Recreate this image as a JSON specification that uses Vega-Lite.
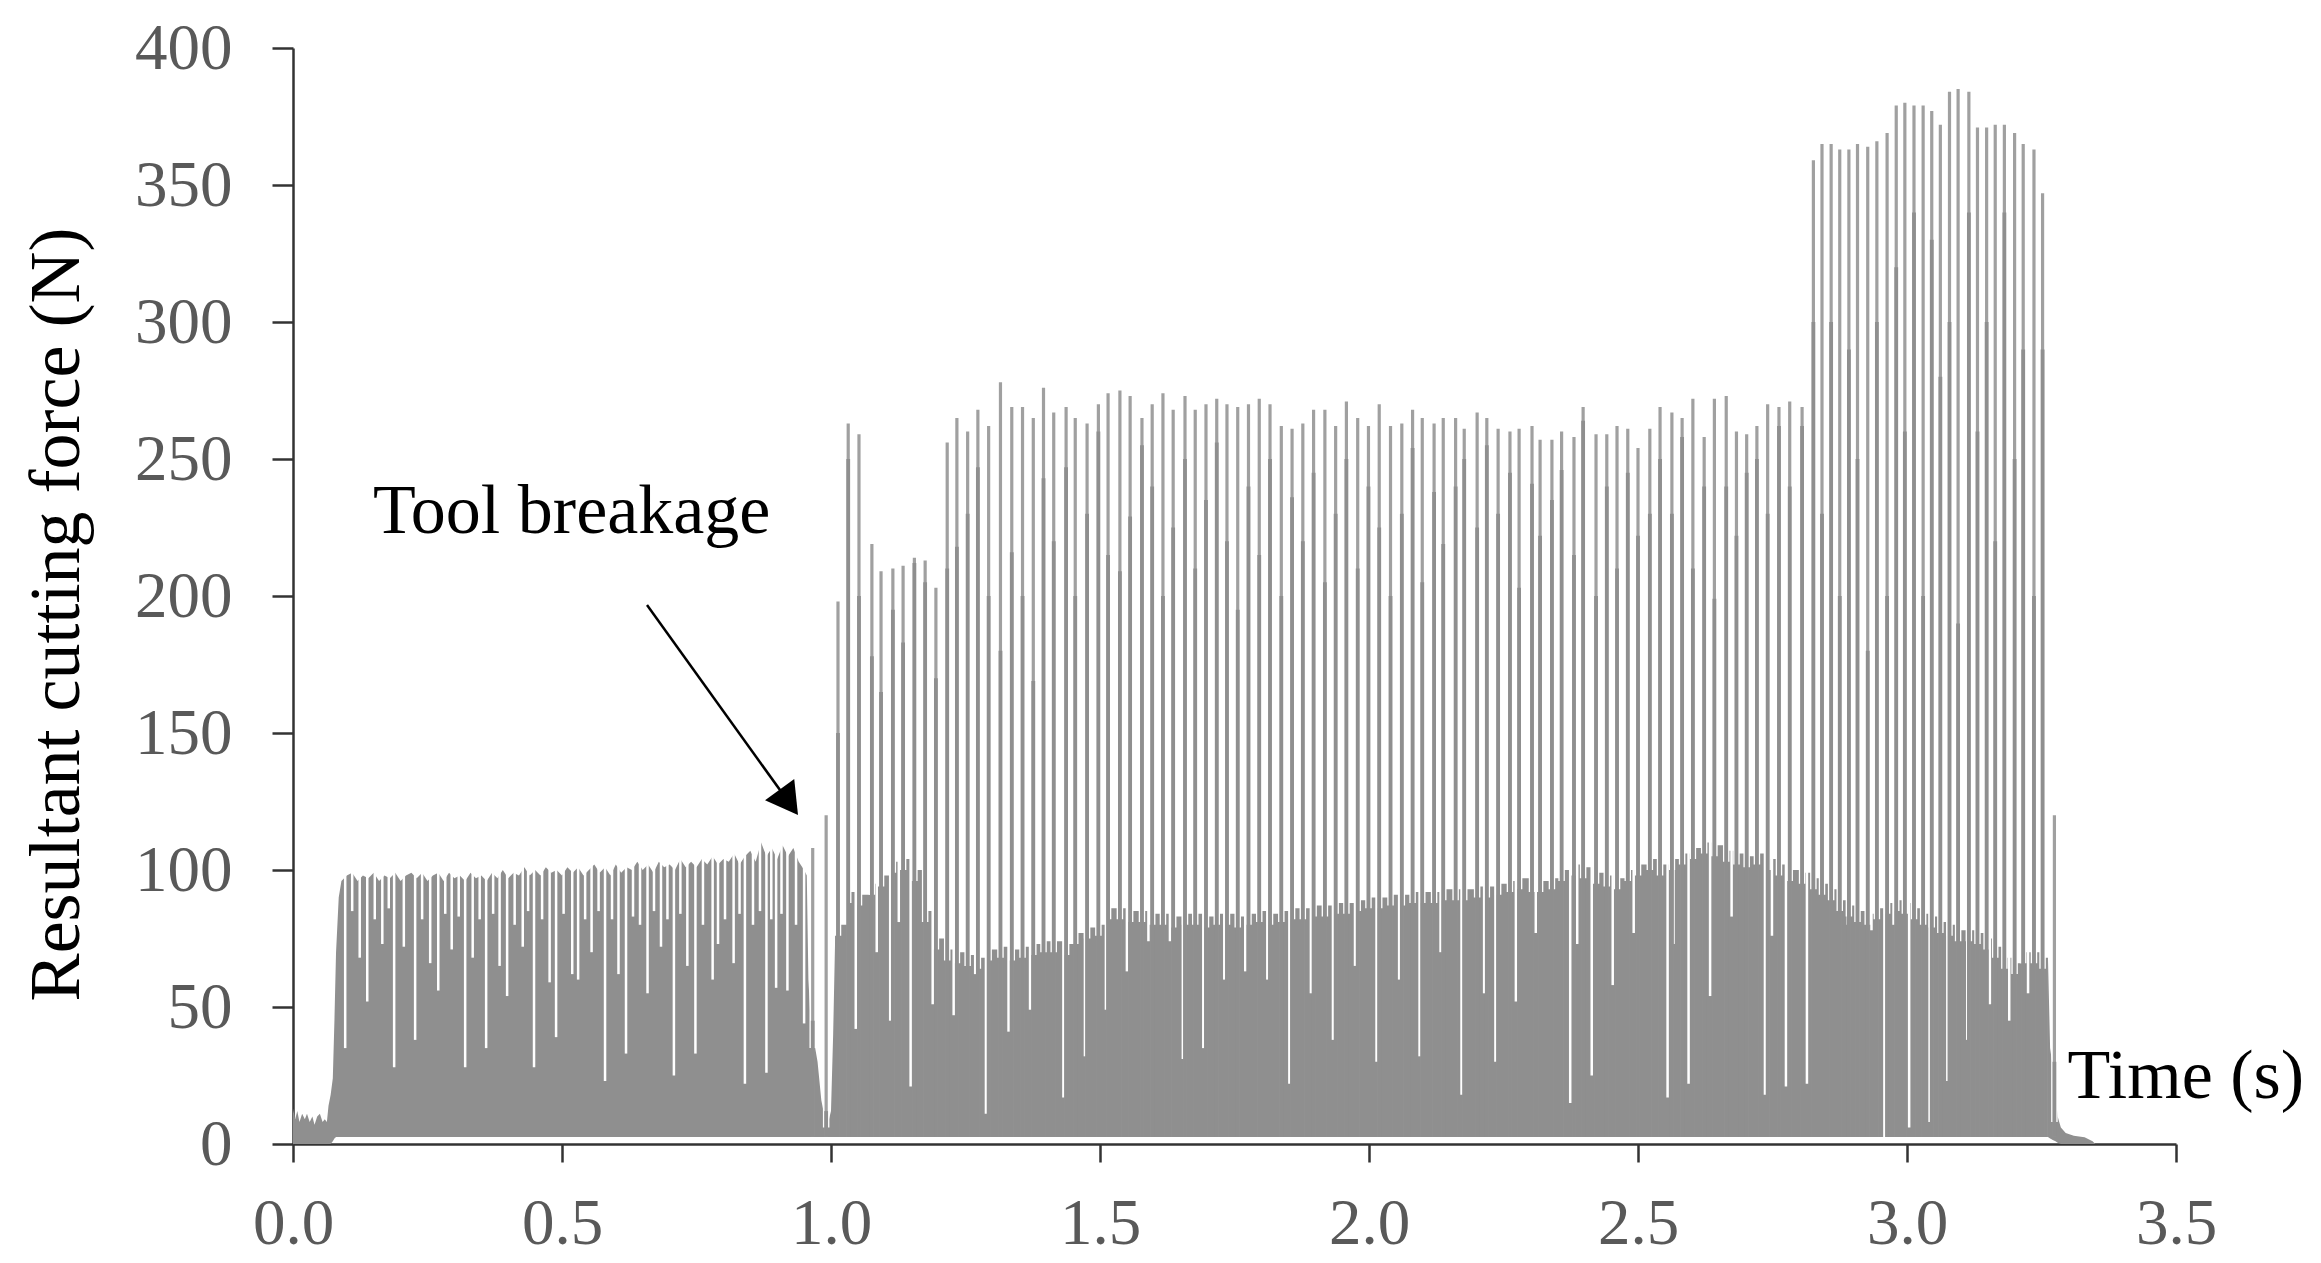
{
"$schema": "https://vega.github.io/schema/vega-lite/v6.json",
"width": 1883, "height": 1096,
"autosize": {"type": "none"},
"padding": {"left": 293, "top": 48, "right": 145, "bottom": 119},
"background": "white",
"config": {
 "view": {"stroke": null},
 "axis": {"grid": false, "labelFont": "Liberation Serif", "labelFontSize": 65, "labelColor": "#595959", "titleFont": "Liberation Serif", "titleFontWeight": "normal", "titleColor": "#000000", "tickColor": "#333333", "domainColor": "#333333", "tickWidth": 2.5, "domainWidth": 2.5, "labelFlush": false, "labelOverlap": false},
 "axisX": {"tickSize": 18, "labelPadding": 30, "titleFontSize": 70, "titleX": 1774, "titleY": -47, "titleAlign": "left", "titleBaseline": "alphabetic", "titleAngle": 0, "labelAngle": 0},
 "axisY": {"tickSize": 21, "labelPadding": 40, "titleFontSize": 72, "titleX": -215, "titleY": 566, "titleAlign": "center", "titleBaseline": "alphabetic", "titleAngle": 270}
},
"datasets": {
 "fill": [
  {"t":0,"top":13,"lo":0,"seg":1},{"t":0.004,"top":9,"lo":0,"seg":1},{"t":0.008,"top":12,"lo":0,"seg":1},{"t":0.012,"top":8,"lo":0,"seg":1},{"t":0.017,"top":11,"lo":0,"seg":1},{"t":0.022,"top":9,"lo":0,"seg":1},{"t":0.026,"top":11,"lo":0,"seg":1},{"t":0.031,"top":8,"lo":0,"seg":1},{"t":0.036,"top":10,"lo":0,"seg":1},{"t":0.040,"top":7,"lo":0,"seg":1},{"t":0.045,"top":10,"lo":0,"seg":1},{"t":0.050,"top":11,"lo":0,"seg":1},{"t":0.055,"top":8,"lo":0,"seg":1},{"t":0.059,"top":9,"lo":0,"seg":1},{"t":0.063,"top":8,"lo":0,"seg":1},{"t":0.066,"top":14,"lo":0,"seg":1},{"t":0.070,"top":18,"lo":0,"seg":1},{"t":0.074,"top":24,"lo":1,"seg":1},{"t":0.077,"top":45,"lo":2,"seg":1},{"t":0.080,"top":70,"lo":2.6,"seg":1},{"t":0.085,"top":90,"lo":2.6,"seg":1},
  {"t":0.09,"top":96,"lo":2.6,"seg":1},{"t":0.10,"top":98,"lo":2.6,"seg":1},{"t":0.11,"top":99,"lo":2.6,"seg":1},{"t":0.12,"top":96,"lo":2.6,"seg":1},{"t":0.13,"top":98,"lo":2.6,"seg":1},{"t":0.14,"top":97,"lo":2.6,"seg":1},{"t":0.15,"top":99,"lo":2.6,"seg":1},{"t":0.16,"top":96,"lo":2.6,"seg":1},{"t":0.17,"top":98,"lo":2.6,"seg":1},{"t":0.18,"top":97,"lo":2.6,"seg":1},{"t":0.19,"top":99,"lo":2.6,"seg":1},{"t":0.20,"top":96,"lo":2.6,"seg":1},{"t":0.21,"top":98,"lo":2.6,"seg":1},{"t":0.22,"top":99,"lo":2.6,"seg":1},{"t":0.23,"top":97,"lo":2.6,"seg":1},{"t":0.24,"top":99,"lo":2.6,"seg":1},{"t":0.25,"top":96,"lo":2.6,"seg":1},{"t":0.26,"top":98,"lo":2.6,"seg":1},{"t":0.27,"top":99,"lo":2.6,"seg":1},{"t":0.28,"top":96,"lo":2.6,"seg":1},{"t":0.29,"top":99,"lo":2.6,"seg":1},{"t":0.30,"top":97,"lo":2.6,"seg":1},{"t":0.31,"top":98,"lo":2.6,"seg":1},{"t":0.32,"top":96,"lo":2.6,"seg":1},{"t":0.33,"top":99,"lo":2.6,"seg":1},{"t":0.34,"top":97,"lo":2.6,"seg":1},{"t":0.35,"top":98,"lo":2.6,"seg":1},{"t":0.36,"top":96,"lo":2.6,"seg":1},{"t":0.37,"top":99,"lo":2.6,"seg":1},{"t":0.38,"top":97,"lo":2.6,"seg":1},{"t":0.39,"top":100,"lo":2.6,"seg":1},{"t":0.40,"top":97,"lo":2.6,"seg":1},{"t":0.41,"top":99,"lo":2.6,"seg":1},{"t":0.42,"top":98,"lo":2.6,"seg":1},{"t":0.43,"top":101,"lo":2.6,"seg":1},{"t":0.44,"top":98,"lo":2.6,"seg":1},{"t":0.45,"top":100,"lo":2.6,"seg":1},{"t":0.46,"top":98,"lo":2.6,"seg":1},{"t":0.47,"top":101,"lo":2.6,"seg":1},{"t":0.48,"top":99,"lo":2.6,"seg":1},{"t":0.49,"top":100,"lo":2.6,"seg":1},{"t":0.50,"top":98,"lo":2.6,"seg":1},{"t":0.51,"top":101,"lo":2.6,"seg":1},{"t":0.52,"top":99,"lo":2.6,"seg":1},{"t":0.53,"top":101,"lo":2.6,"seg":1},{"t":0.54,"top":98,"lo":2.6,"seg":1},{"t":0.55,"top":100,"lo":2.6,"seg":1},{"t":0.56,"top":102,"lo":2.6,"seg":1},{"t":0.57,"top":99,"lo":2.6,"seg":1},{"t":0.58,"top":101,"lo":2.6,"seg":1},{"t":0.59,"top":98,"lo":2.6,"seg":1},{"t":0.60,"top":102,"lo":2.6,"seg":1},{"t":0.61,"top":99,"lo":2.6,"seg":1},{"t":0.62,"top":101,"lo":2.6,"seg":1},{"t":0.63,"top":100,"lo":2.6,"seg":1},{"t":0.64,"top":103,"lo":2.6,"seg":1},{"t":0.65,"top":100,"lo":2.6,"seg":1},{"t":0.66,"top":102,"lo":2.6,"seg":1},{"t":0.67,"top":99,"lo":2.6,"seg":1},{"t":0.68,"top":103,"lo":2.6,"seg":1},{"t":0.69,"top":101,"lo":2.6,"seg":1},{"t":0.70,"top":102,"lo":2.6,"seg":1},{"t":0.71,"top":100,"lo":2.6,"seg":1},{"t":0.72,"top":104,"lo":2.6,"seg":1},{"t":0.73,"top":101,"lo":2.6,"seg":1},{"t":0.74,"top":103,"lo":2.6,"seg":1},{"t":0.75,"top":101,"lo":2.6,"seg":1},{"t":0.76,"top":104,"lo":2.6,"seg":1},{"t":0.77,"top":102,"lo":2.6,"seg":1},{"t":0.78,"top":105,"lo":2.6,"seg":1},{"t":0.79,"top":102,"lo":2.6,"seg":1},{"t":0.80,"top":104,"lo":2.6,"seg":1},{"t":0.81,"top":103,"lo":2.6,"seg":1},{"t":0.82,"top":106,"lo":2.6,"seg":1},{"t":0.83,"top":102,"lo":2.6,"seg":1},{"t":0.84,"top":105,"lo":2.6,"seg":1},{"t":0.85,"top":107,"lo":2.6,"seg":1},{"t":0.86,"top":103,"lo":2.6,"seg":1},{"t":0.87,"top":110,"lo":2.6,"seg":1},{"t":0.88,"top":105,"lo":2.6,"seg":1},{"t":0.89,"top":108,"lo":2.6,"seg":1},{"t":0.90,"top":104,"lo":2.6,"seg":1},{"t":0.91,"top":109,"lo":2.6,"seg":1},{"t":0.92,"top":105,"lo":2.6,"seg":1},{"t":0.93,"top":108,"lo":2.6,"seg":1},{"t":0.94,"top":103,"lo":2.6,"seg":1},{"t":0.95,"top":100,"lo":2.6,"seg":1},{"t":0.955,"top":98,"lo":2.6,"seg":1},
  {"t":0.958,"top":60,"lo":2.6,"seg":1},{"t":0.962,"top":45,"lo":2.6,"seg":1},{"t":0.968,"top":38,"lo":2.6,"seg":1},{"t":0.975,"top":30,"lo":2.6,"seg":1},{"t":0.982,"top":16,"lo":2.6,"seg":1},{"t":0.988,"top":10,"lo":2.6,"seg":1},{"t":0.995,"top":8,"lo":2.6,"seg":1},{"t":1.000,"top":12,"lo":2.6,"seg":1},{"t":1.004,"top":40,"lo":2.6,"seg":1},{"t":1.008,"top":78,"lo":2.6,"seg":1},{"t":1.013,"top":80,"lo":2.6,"seg":1},
  {"t":3.262,"top":68,"lo":2.6,"seg":2},{"t":3.266,"top":35,"lo":2,"seg":2},{"t":3.271,"top":28,"lo":1.5,"seg":2},{"t":3.276,"top":18,"lo":1,"seg":2},{"t":3.280,"top":10,"lo":0.5,"seg":2},{"t":3.286,"top":6,"lo":0,"seg":2},{"t":3.295,"top":4,"lo":0,"seg":2},{"t":3.31,"top":3,"lo":0,"seg":2},{"t":3.33,"top":2.5,"lo":0,"seg":2},{"t":3.345,"top":1,"lo":0,"seg":2},{"t":3.35,"top":0,"lo":0,"seg":2}
 ],
 "cols": [
  {"t":1.008,"col":78},{"t":1.013,"col":80},{"t":1.032,"col":92},{"t":1.052,"col":91},{"t":1.076,"col":95},{"t":1.093,"col":98},{"t":1.115,"col":103},{"t":1.134,"col":104},{"t":1.155,"col":100},{"t":1.175,"col":85},{"t":1.195,"col":75},{"t":1.216,"col":71},{"t":1.234,"col":70},{"t":1.254,"col":69},{"t":1.273,"col":68},{"t":1.293,"col":71},{"t":1.315,"col":72},{"t":1.336,"col":71},{"t":1.356,"col":72},{"t":1.376,"col":73},{"t":1.395,"col":74},{"t":1.414,"col":74},{"t":1.437,"col":73},{"t":1.454,"col":77},{"t":1.476,"col":79},{"t":1.497,"col":80},{"t":1.515,"col":86},{"t":1.537,"col":86},{"t":1.556,"col":85},{"t":1.578,"col":85},{"t":1.597,"col":84},{"t":1.617,"col":84},{"t":1.636,"col":83},{"t":1.658,"col":84},{"t":1.677,"col":84},{"t":1.697,"col":83},{"t":1.717,"col":84},{"t":1.736,"col":84},{"t":1.756,"col":83},{"t":1.776,"col":84},{"t":1.796,"col":85},{"t":1.816,"col":84},{"t":1.837,"col":85},{"t":1.857,"col":86},{"t":1.877,"col":86},{"t":1.897,"col":87},{"t":1.918,"col":87},{"t":1.938,"col":88},{"t":1.958,"col":88},{"t":1.979,"col":89},{"t":1.999,"col":90},{"t":2.019,"col":90},{"t":2.040,"col":91},{"t":2.061,"col":91},{"t":2.081,"col":92},{"t":2.099,"col":92},{"t":2.121,"col":92},{"t":2.138,"col":93},{"t":2.161,"col":93},{"t":2.177,"col":93},{"t":2.201,"col":94},{"t":2.219,"col":94},{"t":2.240,"col":95},{"t":2.262,"col":96},{"t":2.279,"col":97},{"t":2.303,"col":96},{"t":2.318,"col":96},{"t":2.340,"col":97},{"t":2.358,"col":100},{"t":2.381,"col":102},{"t":2.398,"col":101},{"t":2.422,"col":99},{"t":2.442,"col":98},{"t":2.461,"col":97},{"t":2.481,"col":100},{"t":2.500,"col":102},{"t":2.522,"col":104},{"t":2.541,"col":102},{"t":2.563,"col":104},{"t":2.582,"col":106},{"t":2.602,"col":108},{"t":2.623,"col":110},{"t":2.642,"col":109},{"t":2.664,"col":107},{"t":2.683,"col":106},{"t":2.702,"col":105},{"t":2.721,"col":106},{"t":2.741,"col":104},{"t":2.762,"col":102},{"t":2.782,"col":100},{"t":2.805,"col":99},{"t":2.826,"col":97},{"t":2.842,"col":95},{"t":2.859,"col":93},{"t":2.875,"col":89},{"t":2.892,"col":87},{"t":2.908,"col":85},{"t":2.927,"col":84},{"t":2.944,"col":86},{"t":2.963,"col":88},{"t":2.980,"col":89},{"t":2.996,"col":88},{"t":3.013,"col":86},{"t":3.030,"col":84},{"t":3.046,"col":83},{"t":3.062,"col":81},{"t":3.079,"col":80},{"t":3.095,"col":78},{"t":3.115,"col":78},{"t":3.131,"col":77},{"t":3.148,"col":75},{"t":3.164,"col":72},{"t":3.181,"col":68},{"t":3.200,"col":66},{"t":3.216,"col":70},{"t":3.236,"col":70},{"t":3.252,"col":68},{"t":3.262,"col":68}
 ],
 "spikes": [
  {"t":0.966,"peak":108,"mid":45,"wb":35},{"t":0.991,"peak":120,"mid":12,"wb":6},
  {"t":1.013,"peak":198,"mid":150,"wb":76},{"t":1.032,"peak":263,"mid":250,"wb":88},{"t":1.052,"peak":259,"mid":200,"wb":87},{"t":1.076,"peak":219,"mid":178,"wb":91},{"t":1.093,"peak":209,"mid":165,"wb":94},{"t":1.115,"peak":210,"mid":195,"wb":99},{"t":1.134,"peak":211,"mid":183,"wb":100},{"t":1.155,"peak":214,"mid":212,"wb":96},{"t":1.175,"peak":213,"mid":205,"wb":81},{"t":1.195,"peak":203,"mid":170,"wb":71},{"t":1.216,"peak":256,"mid":210,"wb":67},{"t":1.234,"peak":265,"mid":218,"wb":66},{"t":1.254,"peak":260,"mid":230,"wb":65},{"t":1.273,"peak":268,"mid":247,"wb":64},{"t":1.293,"peak":262,"mid":200,"wb":67},{"t":1.315,"peak":278,"mid":180,"wb":68},{"t":1.336,"peak":269,"mid":216,"wb":67},{"t":1.356,"peak":269,"mid":200,"wb":68},{"t":1.376,"peak":265,"mid":169,"wb":69},{"t":1.395,"peak":276,"mid":243,"wb":70},{"t":1.414,"peak":267,"mid":220,"wb":70},{"t":1.437,"peak":269,"mid":247,"wb":69},{"t":1.454,"peak":265,"mid":200,"wb":73},{"t":1.476,"peak":263,"mid":230,"wb":75},{"t":1.497,"peak":270,"mid":260,"wb":76},{"t":1.515,"peak":274,"mid":215,"wb":82},{"t":1.537,"peak":275,"mid":209,"wb":82},{"t":1.556,"peak":273,"mid":229,"wb":81},{"t":1.578,"peak":265,"mid":255,"wb":81},{"t":1.597,"peak":270,"mid":240,"wb":80},{"t":1.617,"peak":274,"mid":200,"wb":80},{"t":1.636,"peak":268,"mid":225,"wb":79},{"t":1.658,"peak":273,"mid":250,"wb":80},{"t":1.677,"peak":268,"mid":210,"wb":80},{"t":1.697,"peak":270,"mid":235,"wb":79},{"t":1.717,"peak":272,"mid":256,"wb":80},{"t":1.736,"peak":270,"mid":220,"wb":80},{"t":1.756,"peak":269,"mid":195,"wb":79},{"t":1.776,"peak":270,"mid":240,"wb":80},{"t":1.796,"peak":272,"mid":215,"wb":81},{"t":1.816,"peak":270,"mid":250,"wb":80},{"t":1.837,"peak":262,"mid":200,"wb":81},{"t":1.857,"peak":261,"mid":236,"wb":82},{"t":1.877,"peak":263,"mid":220,"wb":82},{"t":1.897,"peak":268,"mid":245,"wb":83},{"t":1.918,"peak":268,"mid":205,"wb":83},{"t":1.938,"peak":262,"mid":230,"wb":84},{"t":1.958,"peak":271,"mid":250,"wb":84},{"t":1.979,"peak":265,"mid":210,"wb":85},{"t":1.999,"peak":262,"mid":240,"wb":86},{"t":2.019,"peak":270,"mid":225,"wb":86},{"t":2.040,"peak":262,"mid":200,"wb":87},{"t":2.061,"peak":263,"mid":230,"wb":87},{"t":2.081,"peak":268,"mid":254,"wb":88},{"t":2.099,"peak":265,"mid":205,"wb":88},{"t":2.121,"peak":263,"mid":238,"wb":88},{"t":2.138,"peak":265,"mid":219,"wb":89},{"t":2.161,"peak":265,"mid":240,"wb":89},{"t":2.177,"peak":261,"mid":250,"wb":89},{"t":2.201,"peak":267,"mid":225,"wb":90},{"t":2.219,"peak":265,"mid":255,"wb":90},{"t":2.240,"peak":261,"mid":230,"wb":91},{"t":2.262,"peak":260,"mid":245,"wb":92},{"t":2.279,"peak":261,"mid":203,"wb":93},{"t":2.303,"peak":262,"mid":241,"wb":92},{"t":2.318,"peak":257,"mid":222,"wb":92},{"t":2.340,"peak":257,"mid":235,"wb":93},{"t":2.358,"peak":260,"mid":246,"wb":96},{"t":2.381,"peak":258,"mid":215,"wb":98},{"t":2.398,"peak":269,"mid":264,"wb":97},{"t":2.422,"peak":259,"mid":200,"wb":95},{"t":2.442,"peak":259,"mid":240,"wb":94},{"t":2.461,"peak":262,"mid":210,"wb":93},{"t":2.481,"peak":261,"mid":245,"wb":96},{"t":2.500,"peak":254,"mid":222,"wb":98},{"t":2.522,"peak":261,"mid":230,"wb":100},{"t":2.541,"peak":269,"mid":250,"wb":98},{"t":2.563,"peak":267,"mid":230,"wb":100},{"t":2.582,"peak":265,"mid":258,"wb":102},{"t":2.602,"peak":272,"mid":210,"wb":104},{"t":2.623,"peak":258,"mid":240,"wb":106},{"t":2.642,"peak":272,"mid":199,"wb":105},{"t":2.664,"peak":273,"mid":240,"wb":103},{"t":2.683,"peak":260,"mid":222,"wb":102},{"t":2.702,"peak":259,"mid":245,"wb":101},{"t":2.721,"peak":262,"mid":250,"wb":102},{"t":2.741,"peak":270,"mid":230,"wb":100},{"t":2.762,"peak":269,"mid":262,"wb":98},{"t":2.782,"peak":271,"mid":240,"wb":96},{"t":2.805,"peak":269,"mid":262,"wb":95},
  {"t":2.826,"peak":359,"mid":300,"wb":93},{"t":2.842,"peak":365,"mid":230,"wb":91},{"t":2.859,"peak":365,"mid":300,"wb":89},{"t":2.875,"peak":363,"mid":200,"wb":85},{"t":2.892,"peak":363,"mid":290,"wb":83},{"t":2.908,"peak":365,"mid":250,"wb":81},{"t":2.927,"peak":364,"mid":180,"wb":80},{"t":2.944,"peak":366,"mid":300,"wb":82},{"t":2.963,"peak":369,"mid":200,"wb":84},{"t":2.980,"peak":379,"mid":320,"wb":85},{"t":2.996,"peak":380,"mid":260,"wb":84},{"t":3.013,"peak":379,"mid":340,"wb":82},{"t":3.030,"peak":379,"mid":200,"wb":80},{"t":3.046,"peak":377,"mid":330,"wb":79},{"t":3.062,"peak":372,"mid":280,"wb":77},{"t":3.079,"peak":384,"mid":300,"wb":76},{"t":3.095,"peak":385,"mid":190,"wb":74},{"t":3.115,"peak":384,"mid":340,"wb":74},{"t":3.131,"peak":371,"mid":260,"wb":73},{"t":3.148,"peak":371,"mid":300,"wb":71},{"t":3.164,"peak":372,"mid":220,"wb":68},{"t":3.181,"peak":372,"mid":340,"wb":64},{"t":3.200,"peak":369,"mid":250,"wb":62},{"t":3.216,"peak":365,"mid":290,"wb":66},{"t":3.236,"peak":363,"mid":200,"wb":66},{"t":3.252,"peak":347,"mid":290,"wb":64},{"t":3.274,"peak":120,"mid":30,"wb":8}
 ],
 "gaps": [
  {"t":0.097,"dip":35},{"t":0.110,"dip":85},{"t":0.124,"dip":68},{"t":0.138,"dip":52},{"t":0.152,"dip":82},{"t":0.166,"dip":73},{"t":0.178,"dip":86},{"t":0.188,"dip":28},{"t":0.206,"dip":72},{"t":0.227,"dip":38},{"t":0.240,"dip":82},{"t":0.255,"dip":66},{"t":0.270,"dip":56},{"t":0.283,"dip":84},{"t":0.295,"dip":71},{"t":0.308,"dip":83},{"t":0.320,"dip":28},{"t":0.334,"dip":68},{"t":0.347,"dip":82},{"t":0.359,"dip":35},{"t":0.372,"dip":84},{"t":0.384,"dip":65},{"t":0.398,"dip":54},{"t":0.412,"dip":80},{"t":0.427,"dip":72},{"t":0.437,"dip":85},{"t":0.448,"dip":28},{"t":0.463,"dip":82},{"t":0.477,"dip":59},{"t":0.489,"dip":39},{"t":0.503,"dip":84},{"t":0.519,"dip":62},{"t":0.530,"dip":60},{"t":0.543,"dip":82},{"t":0.555,"dip":70},{"t":0.568,"dip":85},{"t":0.580,"dip":23},{"t":0.593,"dip":82},{"t":0.605,"dip":62},{"t":0.619,"dip":33},{"t":0.632,"dip":83},{"t":0.645,"dip":80},{"t":0.659,"dip":55},{"t":0.671,"dip":85},{"t":0.684,"dip":72},{"t":0.696,"dip":82},{"t":0.708,"dip":25},{"t":0.720,"dip":84},{"t":0.733,"dip":65},{"t":0.748,"dip":33},{"t":0.762,"dip":80},{"t":0.780,"dip":60},{"t":0.790,"dip":73},{"t":0.803,"dip":82},{"t":0.819,"dip":66},{"t":0.830,"dip":84},{"t":0.840,"dip":22},{"t":0.855,"dip":80},{"t":0.868,"dip":85},{"t":0.880,"dip":26},{"t":0.889,"dip":82},{"t":0.898,"dip":57},{"t":0.908,"dip":84},{"t":0.919,"dip":56},{"t":0.935,"dip":80},{"t":0.950,"dip":44},
  {"t":1.046,"dip":42},{"t":1.085,"dip":70},{"t":1.110,"dip":45},{"t":1.126,"dip":81},{"t":1.148,"dip":21},{"t":1.189,"dip":51},{"t":1.228,"dip":47},{"t":1.268,"dip":62},{"t":1.288,"dip":11},{"t":1.330,"dip":41},{"t":1.370,"dip":49},{"t":1.432,"dip":17},{"t":1.472,"dip":32},{"t":1.511,"dip":49},{"t":1.550,"dip":63},{"t":1.590,"dip":74},{"t":1.630,"dip":74},{"t":1.654,"dip":31},{"t":1.692,"dip":35},{"t":1.731,"dip":60},{"t":1.770,"dip":63},{"t":1.811,"dip":60},{"t":1.852,"dip":22},{"t":1.892,"dip":55},{"t":1.933,"dip":38},{"t":1.974,"dip":65},{"t":2.014,"dip":30},{"t":2.056,"dip":60},{"t":2.094,"dip":32},{"t":2.133,"dip":70},{"t":2.172,"dip":18},{"t":2.214,"dip":55},{"t":2.235,"dip":30},{"t":2.273,"dip":52},{"t":2.310,"dip":77},{"t":2.374,"dip":15},{"t":2.387,"dip":73},{"t":2.414,"dip":25},{"t":2.453,"dip":58},{"t":2.492,"dip":77},{"t":2.555,"dip":17},{"t":2.566,"dip":73},{"t":2.594,"dip":22},{"t":2.634,"dip":54},{"t":2.674,"dip":83},{"t":2.736,"dip":18},{"t":2.749,"dip":76},{"t":2.775,"dip":21},{"t":2.814,"dip":22},{"t":2.890,"dip":80},{"t":2.934,"dip":78},{"t":2.958,"dip":2},{"t":2.975,"dip":80},{"t":3.004,"dip":6},{"t":3.042,"dip":8},{"t":3.075,"dip":23},{"t":3.112,"dip":38},{"t":3.154,"dip":51},{"t":3.190,"dip":45},{"t":3.225,"dip":55}
 ],
 "ann": [{"t":0.658,"v":196.7,"t2":0.9216,"v2":124.7}],
 "txt": [{"t":0.1487,"v":223,"label":"Tool breakage"}]
},
"layer": [
 {"data": {"name": "fill"},
  "mark": {"type": "area", "color": "#8f8f8f", "interpolate": "linear"},
  "encoding": {
   "x": {"field": "t", "type": "quantitative", "scale": {"domain": [0, 3.5], "nice": false, "zero": false}, "title": "Time (s)", "axis": {"values": [0, 0.5, 1, 1.5, 2, 2.5, 3, 3.5], "format": ".1f"}},
   "y": {"field": "top", "type": "quantitative", "stack": null, "scale": {"domain": [0, 400], "nice": false}, "title": "Resultant cutting force (N)", "axis": {"values": [0, 50, 100, 150, 200, 250, 300, 350, 400]}},
   "y2": {"field": "lo"},
   "detail": {"field": "seg", "type": "nominal"}
  }},
 {"data": {"name": "cols"},
  "mark": {"type": "area", "color": "#8f8f8f", "interpolate": "step-after"},
  "encoding": {
   "x": {"field": "t", "type": "quantitative", "title": "Time (s)"},
   "y": {"field": "col", "type": "quantitative", "stack": null, "title": "Resultant cutting force (N)"},
   "y2": {"datum": 2.6}
  }},
 {"data": {"name": "gaps"},
  "mark": {"type": "rule", "color": "#ffffff", "strokeWidth": 2.5},
  "encoding": {
   "x": {"field": "t", "type": "quantitative", "title": "Time (s)"},
   "y": {"field": "dip", "type": "quantitative", "title": "Resultant cutting force (N)"},
   "y2": {"datum": 125}
  }},
 {"data": {"name": "spikes"},
  "mark": {"type": "rule", "color": "#ffffff", "strokeWidth": 6.5},
  "encoding": {
   "x": {"field": "t", "type": "quantitative", "title": "Time (s)"},
   "y": {"field": "peak", "type": "quantitative", "title": "Resultant cutting force (N)"},
   "y2": {"field": "wb"}
  }},
 {"data": {"name": "spikes"},
  "mark": {"type": "rule", "color": "#a0a0a0", "strokeWidth": 3.2},
  "encoding": {
   "x": {"field": "t", "type": "quantitative", "title": "Time (s)"},
   "y": {"field": "peak", "type": "quantitative", "title": "Resultant cutting force (N)"},
   "y2": {"datum": 2.6}
  }},
 {"data": {"name": "spikes"},
  "mark": {"type": "rule", "color": "#8f8f8f", "strokeWidth": 3.8},
  "encoding": {
   "x": {"field": "t", "type": "quantitative", "title": "Time (s)"},
   "y": {"field": "mid", "type": "quantitative", "title": "Resultant cutting force (N)"},
   "y2": {"datum": 2.6}
  }},
 {"data": {"name": "ann"},
  "mark": {"type": "rule", "color": "#000000", "strokeWidth": 2.5},
  "encoding": {
   "x": {"field": "t", "type": "quantitative", "title": "Time (s)"},
   "y": {"field": "v", "type": "quantitative", "title": "Resultant cutting force (N)"},
   "x2": {"field": "t2"},
   "y2": {"field": "v2"}
  }},
 {"data": {"name": "ann"},
  "mark": {"type": "point", "shape": "triangle-up", "angle": 144, "size": 1300, "filled": true, "color": "#000000", "opacity": 1, "strokeWidth": 0},
  "encoding": {
   "x": {"field": "t2", "type": "quantitative", "title": "Time (s)"},
   "y": {"field": "v2", "type": "quantitative", "title": "Resultant cutting force (N)"}
  }},
 {"data": {"name": "txt"},
  "mark": {"type": "text", "font": "Liberation Serif", "fontSize": 70, "align": "left", "baseline": "alphabetic", "color": "#000000"},
  "encoding": {
   "x": {"field": "t", "type": "quantitative", "title": "Time (s)"},
   "y": {"field": "v", "type": "quantitative", "title": "Resultant cutting force (N)"},
   "text": {"field": "label"}
  }}
]
}
